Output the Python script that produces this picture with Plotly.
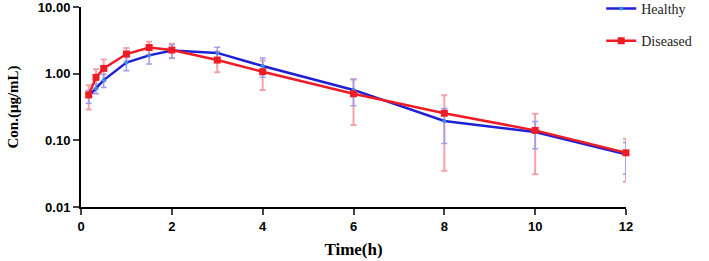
import plotly.graph_objects as go

time_h = [0.17, 0.33, 0.5, 1, 1.5, 2, 3, 4, 6, 8, 10, 12]
healthy_mean = [0.46, 0.60, 0.80, 1.47, 1.88, 2.22, 2.05, 1.30, 0.57, 0.195, 0.133, 0.062]
healthy_sd = [0.10, 0.10, 0.18, 0.36, 0.48, 0.50, 0.45, 0.42, 0.24, 0.105, 0.058, 0.031]
diseased_mean = [0.48, 0.88, 1.20, 1.97, 2.47, 2.26, 1.60, 1.07, 0.50, 0.255, 0.141, 0.065]
diseased_sd = [0.19, 0.28, 0.43, 0.45, 0.55, 0.56, 0.55, 0.50, 0.33, 0.22, 0.11, 0.041]

y_tickvals = [0.01, 0.1, 1, 10]
y_ticktext = ["0.01", "0.10", "1.00", "10.00"]
x_tickvals = [0, 2, 4, 6, 8, 10, 12]

RED = "#ee1c25"
BLUE = "#1f1fd6"
PINK = "#f4a3ac"
LAV = "#9d9df0"

fig = go.Figure()
# error bars
fig.add_trace(go.Scatter(x=time_h, y=diseased_mean, mode="markers",
                         marker=dict(size=1, color="rgba(0,0,0,0)"),
                         error_y=dict(type="data", array=diseased_sd, color=PINK, thickness=2, width=3),
                         showlegend=False, hoverinfo="skip", cliponaxis=False))
fig.add_trace(go.Scatter(x=time_h, y=healthy_mean, mode="markers",
                         marker=dict(size=1, color="rgba(0,0,0,0)"),
                         error_y=dict(type="data", array=healthy_sd, color=LAV, thickness=1.5, width=3),
                         showlegend=False, hoverinfo="skip", cliponaxis=False))
# lines
fig.add_trace(go.Scatter(x=time_h, y=healthy_mean, mode="lines+markers", name="Healthy",
                         line=dict(color=BLUE, width=2.5),
                         marker=dict(symbol="circle", size=4, color="#3a8ee0"),
                         legendgroup="h", cliponaxis=False))
fig.add_trace(go.Scatter(x=time_h, y=diseased_mean, mode="lines+markers", name="Diseased",
                         line=dict(color=RED, width=2.5),
                         marker=dict(symbol="square", size=7, color=RED),
                         legendgroup="d", cliponaxis=False))

tickfont = dict(family="Liberation Sans", size=13, color="black", weight="bold")

fig.update_layout(
    width=709, height=261,
    margin=dict(l=81, r=83, t=7, b=54, autoexpand=False),
    plot_bgcolor="white", paper_bgcolor="white",
    showlegend=True,
    legend=dict(x=0.848, y=1.07, xref="container", yref="paper",
                xanchor="left", yanchor="top",
                font=dict(family="Liberation Serif", size=14, color="#222"),
                tracegroupgap=11, bgcolor="rgba(0,0,0,0)"),
    xaxis=dict(range=[0, 12], tickvals=x_tickvals, ticks="outside", ticklen=6, tickwidth=2,
               showline=True, linecolor="black", linewidth=2, showgrid=False, zeroline=False,
               tickfont=tickfont, automargin=False, ticklabeloverflow="allow",
               title=dict(text="Time(h)", font=dict(family="Liberation Serif", size=17,
                                                    color="black", weight="bold"), standoff=11)),
    yaxis=dict(type="log", range=[-2, 1], tickvals=y_tickvals, ticktext=y_ticktext,
               ticks="outside", ticklen=6, tickwidth=2,
               showline=True, linecolor="black", linewidth=2, showgrid=False, zeroline=False,
               tickfont=tickfont, automargin=False, ticklabeloverflow="allow",
               title=dict(text="Con.(μg/mL)", font=dict(family="Liberation Serif", size=15,
                                                        color="black", weight="bold"), standoff=16)),
)

fig.write_html("out.html", config={"displayModeBar": False},
               post_script="document.body.style.margin='0';")
